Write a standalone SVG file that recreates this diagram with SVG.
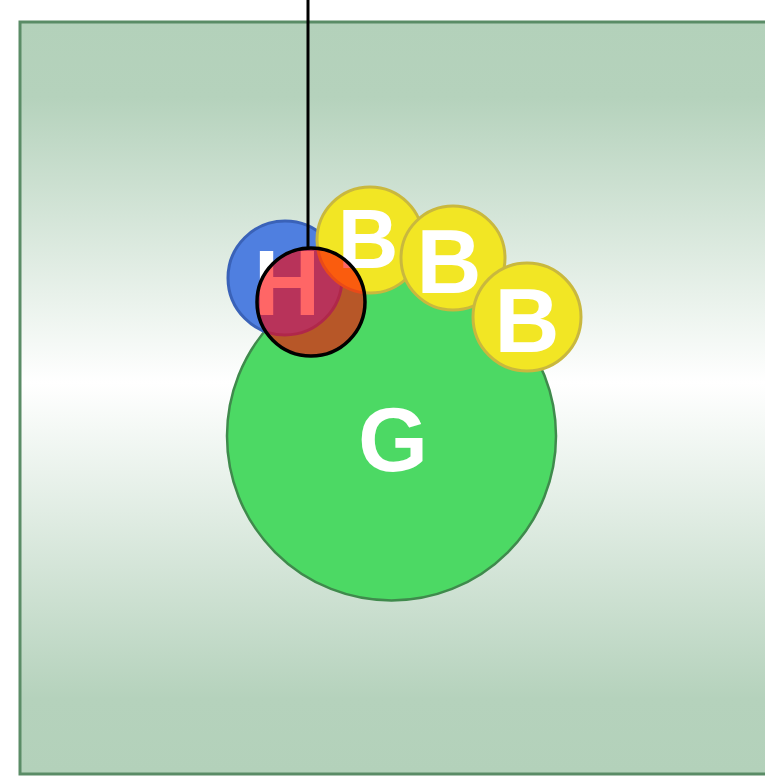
<svg xmlns="http://www.w3.org/2000/svg" width="765" height="777" viewBox="0 0 765 777">
<defs>
<linearGradient id="bg" x1="0" y1="0" x2="0" y2="1">
<stop offset="0" stop-color="#b3d1ba"/>
<stop offset="0.1" stop-color="#b5d2bc"/>
<stop offset="0.48" stop-color="#ffffff"/>
<stop offset="0.9" stop-color="#b5d2bc"/>
<stop offset="1" stop-color="#b3d1ba"/>
</linearGradient>
</defs>
<style>
.lbl{font-family:"Liberation Sans",Arial,sans-serif;font-weight:bold;fill:#ffffff;text-anchor:middle}
.yel{fill:#f2e624;stroke:#c9b83e;stroke-width:3}
</style>
<rect x="20" y="22" width="760" height="752" fill="url(#bg)" stroke="#5a8c66" stroke-width="3"/>
<g id="G">
<circle cx="391.5" cy="436" r="164.5" fill="#4cd964" stroke="#3f8a4c" stroke-width="2.5"/>
<text class="lbl" x="393" y="471" font-size="90">G</text>
</g>
<g id="H">
<circle cx="285" cy="278" r="57" fill="#4f7fe0" stroke="#3a62b8" stroke-width="3"/>
<text class="lbl" x="287" y="315" font-size="92">H</text>
</g>
<g id="B1">
<circle class="yel" cx="370" cy="240" r="53"/>
<text class="lbl" x="368" y="268" font-size="84">B</text>
</g>
<g id="B2">
<circle class="yel" cx="453" cy="258" r="52"/>
<text class="lbl" x="449" y="293" font-size="90">B</text>
</g>
<g id="B3">
<circle class="yel" cx="527" cy="317" r="54"/>
<text class="lbl" x="527" y="352" font-size="90">B</text>
</g>
<g id="R">
<circle cx="311" cy="302" r="54" fill="#ff0000" fill-opacity="0.6" stroke="#000000" stroke-width="3.5"/>
</g>
<g id="connectors">
<line x1="308" y1="0" x2="308" y2="248" stroke="#000000" stroke-width="3"/>
</g>
</svg>
